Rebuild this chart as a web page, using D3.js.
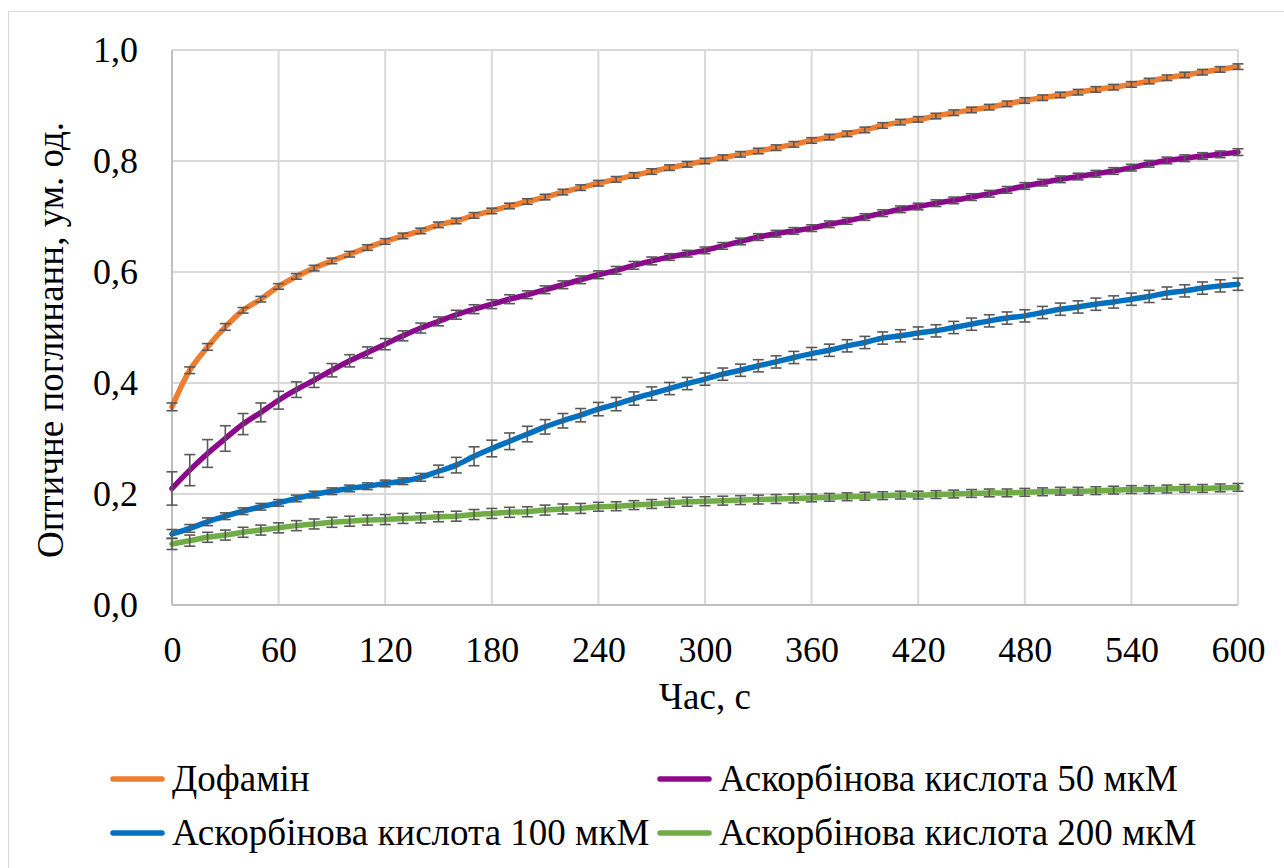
<!DOCTYPE html>
<html><head><meta charset="utf-8">
<script src="https://cdn.jsdelivr.net/npm/d3@7"></script>
<style>body{margin:0;background:#fff}svg{display:block}text{font-family:"Liberation Serif","Times New Roman",serif;fill:#000}</style>
</head><body><svg id="c" width="1284" height="868"></svg>
<script>
const times = d3.range(0, 601, 10);
const xTicks = [0,60,120,180,240,300,360,420,480,540,600];
const yTicks = [0,0.2,0.4,0.6,0.8,1.0];
const seriesNames = ["Дофамін","Аскорбінова кислота 50 мкМ","Аскорбінова кислота 100 мкМ","Аскорбінова кислота 200 мкМ"];
const seriesColors = ["#ED7D31","#8B0A8B","#0070C0","#70AD47"];
const dopamine = [0.357,0.423,0.465,0.501,0.531,0.551,0.574,0.592,0.607,0.620,0.632,0.644,0.655,0.665,0.674,0.685,0.692,0.702,0.710,0.719,0.727,0.735,0.744,0.752,0.760,0.767,0.774,0.781,0.788,0.794,0.800,0.806,0.812,0.818,0.824,0.830,0.837,0.843,0.849,0.856,0.864,0.870,0.875,0.881,0.887,0.892,0.897,0.903,0.909,0.914,0.919,0.924,0.929,0.933,0.938,0.944,0.950,0.955,0.960,0.965,0.970];
const asc50 = [0.210,0.243,0.273,0.300,0.326,0.347,0.369,0.388,0.405,0.423,0.440,0.455,0.470,0.485,0.499,0.511,0.523,0.533,0.542,0.551,0.559,0.568,0.577,0.586,0.595,0.603,0.612,0.620,0.627,0.633,0.639,0.647,0.655,0.663,0.669,0.674,0.679,0.686,0.692,0.699,0.706,0.713,0.718,0.724,0.729,0.735,0.741,0.748,0.755,0.761,0.767,0.772,0.777,0.782,0.788,0.795,0.801,0.805,0.809,0.812,0.816];
const asc100 = [0.128,0.138,0.150,0.160,0.169,0.177,0.184,0.192,0.199,0.205,0.210,0.214,0.219,0.223,0.230,0.241,0.252,0.268,0.282,0.295,0.308,0.321,0.332,0.342,0.353,0.362,0.372,0.381,0.390,0.399,0.407,0.416,0.423,0.431,0.438,0.446,0.453,0.459,0.467,0.473,0.481,0.485,0.490,0.494,0.500,0.506,0.512,0.517,0.521,0.527,0.533,0.537,0.542,0.546,0.551,0.556,0.562,0.566,0.571,0.575,0.578];
const asc200 = [0.110,0.116,0.122,0.126,0.131,0.135,0.139,0.143,0.146,0.149,0.151,0.153,0.154,0.156,0.157,0.159,0.160,0.163,0.165,0.167,0.168,0.171,0.173,0.174,0.177,0.178,0.180,0.182,0.184,0.186,0.187,0.188,0.189,0.190,0.191,0.192,0.193,0.194,0.195,0.196,0.197,0.198,0.198,0.199,0.200,0.201,0.202,0.202,0.203,0.204,0.205,0.205,0.206,0.207,0.208,0.208,0.209,0.210,0.210,0.211,0.212];
const errDopamine = [0.007,0.006,0.006,0.006,0.005,0.005,0.005,0.005,0.005,0.005,0.005,0.005,0.005,0.005,0.005,0.005,0.005,0.005,0.005,0.005,0.005,0.005,0.005,0.005,0.005,0.005,0.005,0.005,0.005,0.005,0.005,0.005,0.005,0.005,0.005,0.005,0.005,0.005,0.005,0.005,0.005,0.005,0.005,0.005,0.005,0.005,0.005,0.005,0.005,0.005,0.005,0.005,0.005,0.005,0.005,0.005,0.005,0.005,0.005,0.005,0.005];
const errAsc50 = [0.030,0.028,0.025,0.023,0.019,0.017,0.016,0.014,0.013,0.012,0.011,0.010,0.010,0.009,0.009,0.008,0.008,0.008,0.008,0.008,0.007,0.007,0.007,0.007,0.007,0.007,0.007,0.007,0.006,0.006,0.006,0.006,0.006,0.006,0.006,0.006,0.006,0.006,0.006,0.006,0.006,0.006,0.006,0.006,0.006,0.006,0.006,0.006,0.006,0.006,0.006,0.006,0.006,0.006,0.006,0.006,0.006,0.006,0.006,0.006,0.006];
const errAsc100 = [0.008,0.007,0.007,0.006,0.006,0.006,0.006,0.006,0.006,0.006,0.006,0.006,0.006,0.006,0.007,0.011,0.014,0.017,0.015,0.015,0.014,0.013,0.013,0.012,0.012,0.012,0.012,0.012,0.011,0.011,0.011,0.011,0.011,0.011,0.011,0.011,0.011,0.011,0.011,0.011,0.011,0.011,0.011,0.011,0.011,0.011,0.011,0.011,0.011,0.011,0.011,0.011,0.011,0.011,0.011,0.011,0.011,0.011,0.011,0.011,0.011];
const errAsc200 = [0.010,0.010,0.009,0.009,0.009,0.009,0.009,0.009,0.009,0.009,0.009,0.009,0.009,0.009,0.009,0.009,0.009,0.009,0.009,0.009,0.009,0.009,0.009,0.009,0.008,0.008,0.008,0.008,0.008,0.008,0.008,0.008,0.008,0.008,0.008,0.008,0.007,0.007,0.007,0.007,0.007,0.007,0.007,0.007,0.007,0.007,0.007,0.007,0.007,0.007,0.007,0.007,0.007,0.007,0.007,0.007,0.007,0.007,0.007,0.007,0.007];

const allValues = [dopamine, asc50, asc100, asc200];
const allErrs = [errDopamine, errAsc50, errAsc100, errAsc200];

const svg = d3.select("#c");
const L = 172, R = 1238, T = 50, B = 605;
const x = d3.scaleLinear().domain([0,600]).range([L,R]);
const y = d3.scaleLinear().domain([0,1]).range([B,T]);

// chart border
svg.append("rect").attr("x",8.5).attr("y",11.5).attr("width",1290).attr("height",870)
  .attr("fill","#fff").attr("stroke","#d9d9d9").attr("stroke-width",1);

// gridlines
svg.append("g").selectAll("line").data(yTicks.filter(d=>d>0)).join("line")
  .attr("x1",L).attr("x2",R).attr("y1",d=>y(d)).attr("y2",d=>y(d))
  .attr("stroke","#d9d9d9").attr("stroke-width",2);
svg.append("g").selectAll("line").data(xTicks.filter(d=>d>0)).join("line")
  .attr("x1",d=>x(d)).attr("x2",d=>x(d)).attr("y1",T).attr("y2",B)
  .attr("stroke","#d9d9d9").attr("stroke-width",2);
// axis lines
svg.append("line").attr("x1",L).attr("x2",L).attr("y1",T).attr("y2",B).attr("stroke","#bfbfbf").attr("stroke-width",2);
svg.append("line").attr("x1",L).attr("x2",R).attr("y1",B).attr("y2",B).attr("stroke","#bfbfbf").attr("stroke-width",2);

const fmt = d => d3.format(".1f")(d).replace(".", ",");
const yAxis = svg.append("g").attr("transform",`translate(${L},0)`)
  .call(d3.axisLeft(y).tickValues(yTicks).tickFormat(fmt).tickSize(0).tickPadding(34));
yAxis.select(".domain").remove();
yAxis.selectAll("text").style("font-size","36px").attr("font-family","Liberation Serif").attr("fill","#000");
const xAxis = svg.append("g").attr("transform",`translate(0,${B})`)
  .call(d3.axisBottom(x).tickValues(xTicks).tickFormat(d3.format("d")).tickSize(0).tickPadding(31));
xAxis.select(".domain").remove();
xAxis.selectAll("text").style("font-size","36px").attr("font-family","Liberation Serif").attr("fill","#000");

// titles
svg.append("text").attr("x",(L+R)/2).attr("y",709).attr("text-anchor","middle")
  .style("font-size","37px").text("Час, с");
svg.append("text").attr("transform",`translate(63,340) rotate(-90)`).attr("text-anchor","middle")
  .style("font-size","37px").text("Оптичне поглинанн, ум. од.");

// series
const line = d3.line().x((d,i)=>x(times[i])).y(d=>y(d)).curve(d3.curveCatmullRom.alpha(0.5));
const plot = svg.append("g");
allValues.forEach((vals, s) => {
  plot.append("path").datum(vals).attr("d", line).attr("fill","none")
    .attr("stroke", seriesColors[s]).attr("stroke-width",5.5).attr("stroke-linejoin","round").attr("stroke-linecap","round");
});
allValues.forEach((vals, s) => {
  const g = plot.append("g").attr("stroke","#595959").attr("stroke-width",1.6);
  const errs = allErrs[s];
  vals.forEach((v,i) => {
    const cx = x(times[i]), y1 = y(v - errs[i]), y2 = y(v + errs[i]);
    g.append("line").attr("x1",cx).attr("x2",cx).attr("y1",y1).attr("y2",y2);
    g.append("line").attr("x1",cx-5.5).attr("x2",cx+5.5).attr("y1",y1).attr("y2",y1);
    g.append("line").attr("x1",cx-5.5).attr("x2",cx+5.5).attr("y1",y2).attr("y2",y2);
  });
});

// legend
const legendPos = [[110,779],[657,779],[110,833],[657,833]];
seriesNames.forEach((n, s) => {
  const [lx, ly] = legendPos[s];
  svg.append("line").attr("x1",lx+3).attr("x2",lx+52).attr("y1",ly).attr("y2",ly)
    .attr("stroke",seriesColors[s]).attr("stroke-width",5.5).attr("stroke-linecap","round");
  svg.append("text").attr("x",lx+62).attr("y",ly+12).style("font-size","37px").text(n);
});
</script></body></html>
